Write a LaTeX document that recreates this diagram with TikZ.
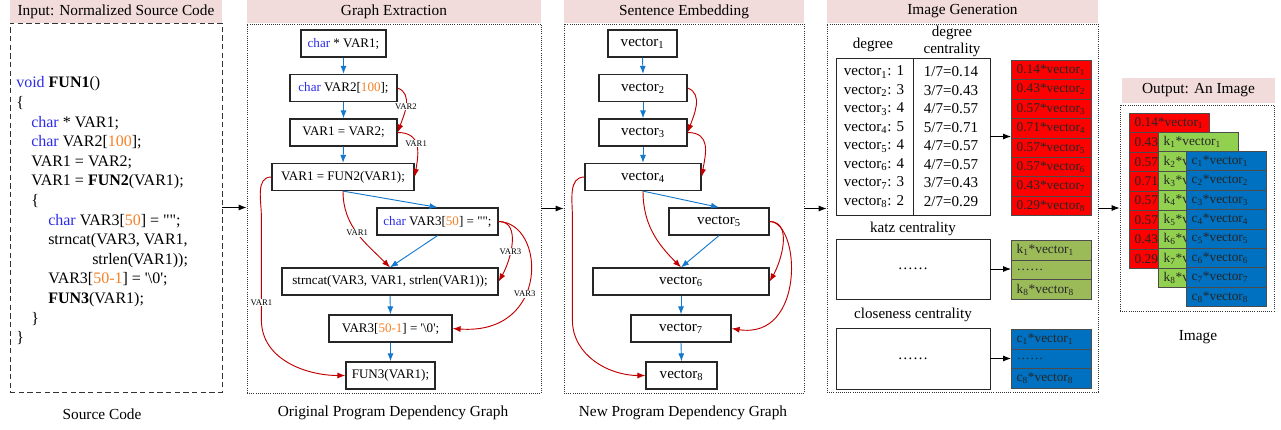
\documentclass[tikz,border=0pt]{standalone}
\usepackage{fontspec}
\setmainfont{Liberation Serif}
\usepackage{xcolor}
\usetikzlibrary{positioning, arrows.meta}

\definecolor{headpink}{HTML}{F2DCDB}
\definecolor{kwblue}{HTML}{2B2BE8}
\definecolor{numorange}{HTML}{F58025}
\definecolor{ctrlblue}{HTML}{1479CC}
\definecolor{datared}{HTML}{C00000}
\definecolor{degred}{HTML}{FF0000}
\definecolor{katzgreen}{HTML}{9BBB59}
\definecolor{imggreen}{HTML}{92D050}
\definecolor{closeblue}{HTML}{0070C0}

\newcommand{\kwd}[1]{\textcolor{kwblue}{#1}}
\newcommand{\numlit}[1]{\textcolor{numorange}{#1}}
\newcommand{\vsub}[1]{\textsubscript{#1}}

\tikzset{
  boxw/.style={minimum width=#1*0.75pt},
  boxh/.style={minimum height=#1*0.75pt},
  stagehead/.style={fill=headpink, inner sep=0pt, boxh=23, font=\fontsize{11.5}{13}\selectfont},
  stagebox/.style={draw=black!80, line width=0.6pt, densely dotted, inner sep=0pt, boxh=369},
  subtitle/.style={font=\fontsize{11.5}{13}\selectfont},
  stmt/.style={draw=black!85, line width=0.9pt, boxh=27, inner sep=1pt, font=\fontsize{9.8}{11}\selectfont},
  vecnode/.style={stmt, font=\fontsize{11.3}{13}\selectfont},
  ctrl/.style={draw=ctrlblue, line width=0.7pt, -{Latex[length=6pt,width=4.5pt]}},
  dep/.style={draw=datared, line width=0.7pt, -{Latex[length=6pt,width=4.5pt]}},
  deplabel/.style={fill=white, inner sep=0.6pt, font=\fontsize{6.5}{7}\selectfont},
  stepflow/.style={line width=0.6pt, -{Latex[length=6pt,width=4.5pt]}},
  tabtext/.style={font=\fontsize{11.3}{12.8}\selectfont, inner sep=0pt},
  tabbox/.style={draw=black!85, line width=0.7pt, boxw=154, tabtext},
  cellbox/.style={fill=#1, draw=black!70, line width=0.5pt, anchor=north west,
    text width=52pt, inner xsep=4pt, inner ysep=0pt, boxh=19.4, align=left,
    text=black!85, font=\fontsize{10}{11}\selectfont},
}

\begin{document}
\begin{tikzpicture}[x=0.75pt, y=-0.75pt]
\useasboundingbox (0,0) rectangle (1281,429);

% ---- source code ----
\node[stagehead, boxw=212] (srchead) at (116,11.5) {Input: Normalized Source Code};
\node[stagebox, boxw=212, dash pattern=on 4pt off 2.5pt] (srcbox) at (116,207.5) {};
\node[anchor=north west, align=left, inner sep=0pt, font=\fontsize{12}{14.7}\selectfont] (code) at (16,76.5) {%
  \kwd{void} \textbf{FUN1}()\\
  \{\\
  \hspace*{11.25pt}\kwd{char} * VAR1;\\
  \hspace*{11.25pt}\kwd{char} VAR2[\numlit{100}];\\
  \hspace*{11.25pt}VAR1 = VAR2;\\
  \hspace*{11.25pt}VAR1 = \textbf{FUN2}(VAR1);\\
  \hspace*{11.25pt}\{\\
  \hspace*{24pt}\kwd{char} VAR3[\numlit{50}] = \textquotedbl\textquotedbl;\\
  \hspace*{24pt}strncat(VAR3, VAR1,\\
  \hspace*{57pt}strlen(VAR1));\\
  \hspace*{24pt}VAR3[\numlit{50-1}] = \textquotesingle\textbackslash0\textquotesingle;\\
  \hspace*{24pt}\textbf{FUN3}(VAR1);\\
  \hspace*{11.25pt}\}\\
  \}};
\node[subtitle] (srccap) at (102,414) {Source Code};

% ---- original PDG ----
\node[stagehead, boxw=294] (gehead) at (394,11.5) {Graph Extraction};
\node[stagebox, boxw=294] (gebox) at (394,208.5) {};
\node[stmt, boxw=85] (g1) at (343.5,43.5) {\kwd{char} * VAR1;};
\node[stmt, boxw=107] (g2) at (343.5,88) {\kwd{char} VAR2[\numlit{100}];};
\node[stmt, boxw=107] (g3) at (343.5,132.5) {VAR1 = VAR2;};
\node[stmt, boxw=142] (g4) at (343,177) {VAR1 = FUN2(VAR1);};
\node[stmt, boxw=121] (g5) at (437.5,221.5) {\kwd{char} VAR3[\numlit{50}] = \textquotedbl\textquotedbl;};
\node[stmt, boxw=216] (g6) at (390,281.5) {strncat(VAR3, VAR1, strlen(VAR1));};
\node[stmt, boxw=123] (g7) at (390.5,328.5) {VAR3[\numlit{50-1}] = \textquotesingle\textbackslash0\textquotesingle;};
\node[stmt, boxw=89] (g8) at (390.5,375.5) {FUN3(VAR1);};
\node[subtitle] (gecap) at (393,413) {Original Program Dependency Graph};

\foreach \a/\b in {g1/g2, g2/g3, g3/g4, g4/g5, g5/g6, g6/g7, g7/g8}
  \draw[ctrl] (\a.south) -- (\b.north);

\draw[dep] (g2.east) to[out=-20, in=70] node[deplabel, pos=0.5] {VAR2} (g3.east);
\draw[dep] (g3.east) to[out=0, in=80, looseness=1.3] node[deplabel, pos=0.45] {VAR1} (g4.east);
\draw[dep] (g4.west) to[out=180, in=90] ++(-10,40) -- ++(0,103) node[deplabel, pos=0.83] {VAR1}
  to[out=-90, in=180] (g8.west);
\draw[dep] (g4.south) to[out=-90, in=135] node[deplabel, pos=0.5] {VAR1} (g6.north);
\draw[dep] (g5.east) to[out=0, in=60] node[deplabel, pos=0.6] {VAR3} (g6.east);
\draw[dep] (g5.east) .. controls +(47,1) and +(98,7) .. (g7.east) node[deplabel, pos=0.6] {VAR3};

% ---- new PDG ----
\node[stagehead, boxw=240] (sehead) at (684,11.5) {Sentence Embedding};
\node[stagebox, boxw=240] (sebox) at (684,208.5) {};
\node[vecnode, boxw=69] (v1) at (642.5,43.5) {vector\vsub{1}};
\node[vecnode, boxw=88] (v2) at (643,88) {vector\vsub{2}};
\node[vecnode, boxw=88] (v3) at (643,132.5) {vector\vsub{3}};
\node[vecnode, boxw=116] (v4) at (643,177) {vector\vsub{4}};
\node[vecnode, boxw=100] (v5) at (719,221.5) {vector\vsub{5}};
\node[vecnode, boxw=176] (v6) at (681,281.5) {vector\vsub{6}};
\node[vecnode, boxw=100] (v7) at (681,328.5) {vector\vsub{7}};
\node[vecnode, boxw=71] (v8) at (681.5,375.5) {vector\vsub{8}};
\node[subtitle] (secap) at (683,413) {New Program Dependency Graph};

\foreach \a/\b in {v1/v2, v2/v3, v3/v4, v4/v5, v5/v6, v6/v7, v7/v8}
  \draw[ctrl] (\a.south) -- (\b.north);

\draw[dep] (v2.east) to[out=-20, in=70] (v3.east);
\draw[dep] (v3.east) to[out=0, in=80, looseness=1.3] (v4.east);
\draw[dep] (v4.west) to[out=180, in=90] ++(-12,40) -- ++(0,103) to[out=-90, in=180] (v8.west);
\draw[dep] (v4.south) to[out=-90, in=135] (v6.north);
\draw[dep] (v5.east) to[out=0, in=60] (v6.east);
\draw[dep] (v5.east) .. controls +(31,0.5) and +(74,11.5) .. (v7.east);

% ---- image generation ----
\node[stagehead, boxw=271] (ighead) at (962.5,11.5) {Image Generation};
\node[stagebox, boxw=271, boxh=368] (igbox) at (962.5,208) {};
\node[tabtext] (deglab) at (873,45) {degree};
\node[tabtext, align=center] (dclab) at (952,41.5) {degree\\centrality};
\node[tabbox, boxh=157] (degtab) at (913,136.5) {};
\draw[line width=0.7pt, draw=black!85] (degtab.north) -- (degtab.south);
\foreach \d/\r [count=\i] in {1/0.14, 3/0.43, 4/0.57, 5/0.71, 4/0.57, 4/0.57, 3/0.43, 2/0.29} {
  \node[tabtext] (dv\i) at (874,{72+18.5*(\i-1)}) {vector\vsub{\i}: \d};
  \node[tabtext] (dc\i) at (951,{72+18.5*(\i-1)}) {\d/7=\r};
  \node[cellbox=degred] (dr\i) at (1011,{60+19.4*(\i-1)}) {\r*vector\vsub{\i}};
}
\draw[stepflow] (degtab.east) -- (degtab.east -| dr1.west);

\node[tabtext] (katzlab) at (913,229) {katz centrality};
\node[tabbox, boxh=60] (katzbox) at (913,269) {\ldots\ldots};
\node[cellbox=katzgreen, boxh=19.7] (kr1) at (1011,240) {k\vsub{1}*vector\vsub{1}};
\node[cellbox=katzgreen, boxh=19.7] (kr2) at (1011,259.7) {\ldots\ldots};
\node[cellbox=katzgreen, boxh=19.7] (kr3) at (1011,279.4) {k\vsub{8}*vector\vsub{8}};
\draw[stepflow] (katzbox.east) -- (katzbox.east -| kr1.west);

\node[tabtext] (closelab) at (913,315) {closeness centrality};
\node[tabbox, boxh=61] (closebox) at (913,358.5) {\ldots\ldots};
\node[cellbox=closeblue, boxh=19.7] (cr1) at (1011,329) {c\vsub{1}*vector\vsub{1}};
\node[cellbox=closeblue, boxh=19.7] (cr2) at (1011,348.7) {\ldots\ldots};
\node[cellbox=closeblue, boxh=19.7] (cr3) at (1011,368.4) {c\vsub{8}*vector\vsub{8}};
\draw[stepflow] (closebox.east) -- (closebox.east -| cr1.west);

% ---- output image: three stacked layers ----
\node[stagehead, boxw=153, boxh=25] (outhead) at (1198.5,90.5) {Output: An Image};
\node[stagebox, boxw=154, boxh=206] (outbox) at (1197,208) {};
\node[cellbox=degred] (ir1) at (1129,113) {0.14*vector\vsub{1}};
\foreach \r [count=\i from 2] in {0.43, 0.57, 0.71, 0.57, 0.57, 0.43, 0.29}
  \node[cellbox=degred] (ir\i) at (1129,{113+19.4*(\i-1)}) {\r};
\node[cellbox=imggreen] (ik1) at (1158,132) {k\vsub{1}*vector\vsub{1}};
\foreach \i in {2,...,8}
  \node[cellbox=imggreen] (ik\i) at (1158,{132+19.4*(\i-1)}) {k\vsub{\i}*v};
\foreach \i in {1,...,8}
  \node[cellbox=closeblue] (ic\i) at (1186,{151+19.4*(\i-1)}) {c\vsub{\i}*vector\vsub{\i}};
\node[subtitle] (imgcap) at (1198,337) {Image};

% ---- stage arrows ----
\draw[stepflow] (srcbox.east) -- (srcbox.east -| gebox.west);
\draw[stepflow] (gebox.east) -- (gebox.east -| sebox.west);
\draw[stepflow] (sebox.east) -- (sebox.east -| igbox.west);
\draw[stepflow] (igbox.east) -- (igbox.east -| outbox.west);
\end{tikzpicture}
\end{document}
